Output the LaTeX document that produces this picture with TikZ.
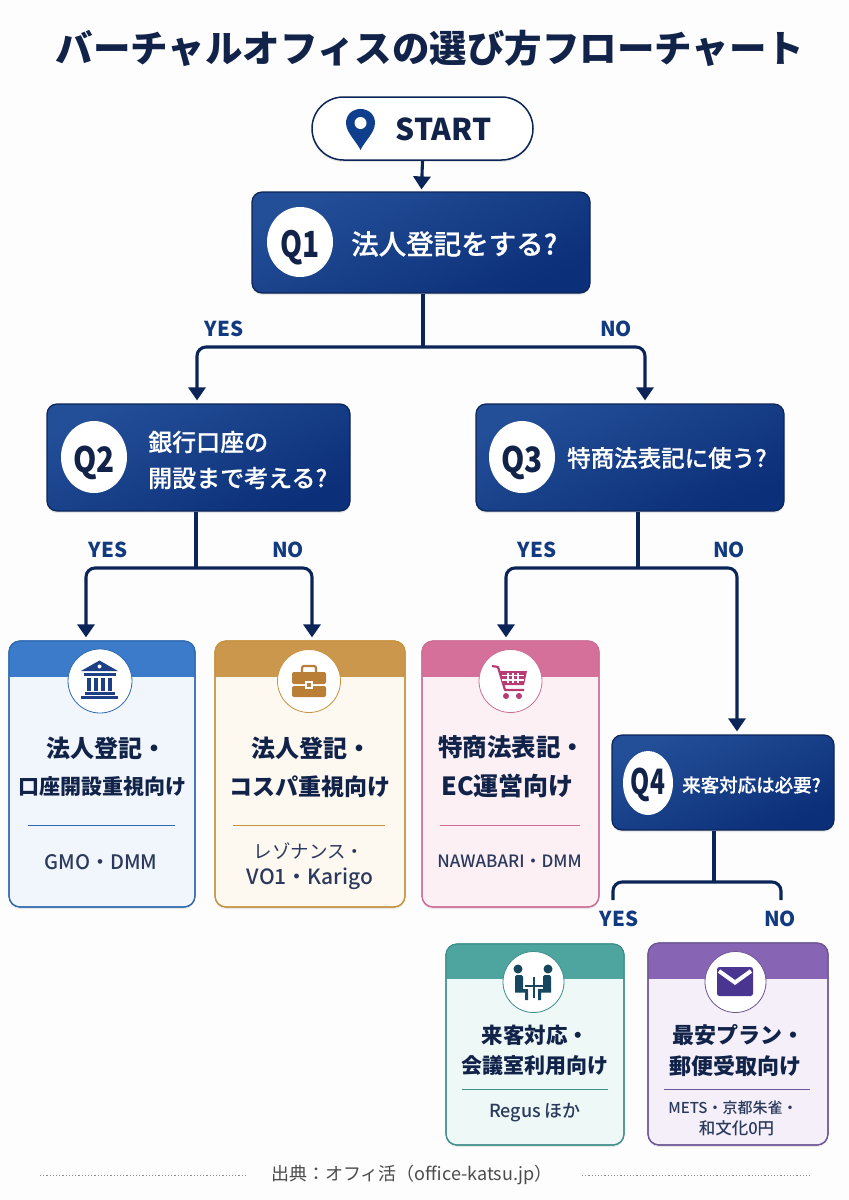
\documentclass[tikz,border=0pt]{standalone}
\usepackage{fontspec}
\setmainfont{Noto Sans CJK JP}
\newfontfamily\jpblack{Noto Sans CJK JP Black}
\newfontfamily\jpmed{Noto Sans CJK JP Medium}
\newfontfamily\jpsemi[FakeBold=0.5]{Noto Sans CJK JP Medium}
\usetikzlibrary{shapes.misc,shapes.geometric,arrows.meta,shadows,calc}
\definecolor{navy}{HTML}{0C2558}
\definecolor{ink}{HTML}{12234A}
\definecolor{lblblue}{HTML}{123A80}
\definecolor{qtop}{HTML}{234F98}
\definecolor{qbot}{HTML}{0B2F78}
\definecolor{pinblue}{HTML}{0F3F8C}
\definecolor{paper}{HTML}{FDFDFD}
\definecolor{hA}{HTML}{3B7BC9}\definecolor{bA}{HTML}{2E6AB0}\definecolor{fA}{HTML}{F1F6FC}
\definecolor{hB}{HTML}{CB974C}\definecolor{bB}{HTML}{C8923F}\definecolor{fB}{HTML}{FDF8F0}
\definecolor{hC}{HTML}{D5709A}\definecolor{bC}{HTML}{CE6E96}\definecolor{fC}{HTML}{FCF0F5}
\definecolor{hD}{HTML}{4EA5A0}\definecolor{bD}{HTML}{3F8F8B}\definecolor{fD}{HTML}{EEF8F7}
\definecolor{hE}{HTML}{8764B4}\definecolor{bE}{HTML}{6E5595}\definecolor{fE}{HTML}{F4EFF9}
\definecolor{icA}{HTML}{1C3F86}\definecolor{icB}{HTML}{B97F36}\definecolor{icC}{HTML}{B83B73}
\definecolor{icD}{HTML}{17475F}\definecolor{icE}{HTML}{4A3590}
\tikzset{
  x=1pt,y=-1pt,
  softsh/.style={drop shadow={shadow xshift=0pt,shadow yshift=-2pt,opacity=.14,fill=black!60}},
  conn/.style={draw=navy,line width=3.1pt,rounded corners=9pt},
  arr/.style={conn,-{Triangle[width=17pt,length=13pt]}},
  qbox/.style={rectangle,rounded corners=10pt,draw=navy,line width=1.2pt,top color=qtop,bottom color=qbot,shading angle=25,softsh,inner sep=0pt},
  qnum/.style={ellipse,fill=white,inner sep=0pt,text=ink},
  qtext/.style={text=white,inner sep=0pt,align=left},
  yn/.style={text=lblblue,font=\bfseries\fontsize{20.5}{22}\selectfont,inner sep=0pt},
  cardt/.style={text=ink,inner sep=0pt,align=center},
  cards/.style={text=ink!90!white,inner sep=0pt,align=center},
  foot/.style={text=black!70,inner sep=0pt},
  dots/.style={draw=black!45,line width=.8pt,dash pattern=on 1.2pt off 2pt},
  iconc/.style={circle,fill=white,draw=#1,line width=.8pt,inner sep=0pt},
}
% name, x1,y1,x2,y2, header bottom, body, header, border
\newcommand{\cardbox}[9]{%
  \node[rectangle,rounded corners=11pt,draw=#9,line width=1.2pt,fill=#7,softsh,minimum width=#4pt-#2pt,minimum height=#5pt-#3pt,inner sep=0pt] (#1) at ({(#2+#4)/2},{(#3+#5)/2}) {};
  \begin{scope}
    \clip[rounded corners=11pt] (#2,#3) rectangle (#4,#5);
    \fill[#8] (#2,#3) rectangle (#4,#6);
  \end{scope}
  \draw[rounded corners=11pt,draw=#9,line width=1.2pt] (#2,#3) rectangle (#4,#5);
}
\newcommand{\fs}[1]{\fontsize{#1}{#1}\selectfont}
\newcommand{\cond}[3]{\raisebox{-#1}[0pt][0pt]{\scalebox{#2}[1]{#3}}}
\begin{document}
\begin{tikzpicture}
\useasboundingbox (0,0) rectangle (849,1200);
\fill[paper] (0,0) rectangle (849,1200);

\node[text=ink,font=\jpblack\fs{37.5},inner sep=0pt] (title) at (430,48) {バーチャルオフィスの選び方フローチャート};

% start
\node[rounded rectangle,draw=navy,line width=1.5pt,fill=white,minimum width=221pt,minimum height=63pt,inner sep=0pt,softsh] (start) at (422.5,128.5) {};
\node[text=ink,font=\bfseries\fs{30},inner sep=0pt] (starttext) at (443.5,129.5) {START};
\begin{scope}[shift={(360.5,129.5)}]
  \fill[pinblue] (0,20.5) .. controls (-4,12) and (-14.5,3) .. (-14.5,-6.5) .. controls (-14.5,-15) and (-8,-20.5) .. (0,-20.5) .. controls (8,-20.5) and (14.5,-15) .. (14.5,-6.5) .. controls (14.5,3) and (4,12) .. (0,20.5) -- cycle;
  \fill[white] (0,-6.5) circle (6);
\end{scope}

% questions
\node[qbox,minimum width=338pt,minimum height=101pt] (q1) at (421,242.5) {};
\node[qnum,minimum width=66pt,minimum height=70pt,font=\bfseries\fs{36}] (n1) at (300,242) {\cond{.42em}{.78}{Q1}};
\node[qtext,anchor=west,font=\jpsemi\fs{27.5}] (t1) at (351,244) {法人登記をする?};

\node[qbox,minimum width=303pt,minimum height=107pt] (q2) at (198.5,457.5) {};
\node[qnum,minimum width=66pt,minimum height=72pt,font=\bfseries\fs{35}] (n2) at (94,457) {\cond{.45em}{.85}{Q2}};
\node[qtext,anchor=west,font=\jpsemi\fs{24}] (t2) at (148,460) {銀行口座の\\[12pt]開設まで考える?};

\node[qbox,minimum width=308pt,minimum height=107pt] (q3) at (630,457.5) {};
\node[qnum,minimum width=66pt,minimum height=72pt,font=\bfseries\fs{35}] (n3) at (522,457) {\cond{.45em}{.85}{Q3}};
\node[qtext,anchor=west,font=\jpsemi\fs{23.5}] (t3) at (567,458) {特商法表記に使う?};

\node[qbox,minimum width=222pt,minimum height=95pt] (q4) at (723,782.5) {};
\node[qnum,minimum width=50pt,minimum height=64pt,font=\bfseries\fs{35}] (n4) at (648,783) {\cond{.34em}{.7}{Q4}};
\node[qtext,anchor=west,font=\jpsemi\fs{18.5}] (t4) at (682,785) {来客対応は必要?};

% cards
\cardbox{c1}{9}{641}{195}{907}{677}{fA}{hA}{bA}
\cardbox{c2}{215}{641}{405}{907}{677}{fB}{hB}{bB}
\cardbox{c3}{422}{641}{599}{907}{677}{fC}{hC}{bC}
\cardbox{c4}{446}{944}{624}{1145}{979}{fD}{hD}{bD}
\cardbox{c5}{648}{943}{828}{1145}{979}{fE}{hE}{bE}

% connectors
\coordinate (j1) at (423,347);
\coordinate (j2) at (196,568);
\coordinate (j3) at (638,568);
\coordinate (j4) at (714,882);
\coordinate (e4y) at (613,900);
\coordinate (e4n) at (781,900);
\draw[arr] (start.south) -- ([xshift=0.5pt,yshift=2pt]q1.north);
\draw[conn] (q1.south -| j1) -- (j1);
\draw[arr] (j1) -| ([xshift=-1.5pt,yshift=3pt]q2.north);
\draw[arr] (j1) -| ([xshift=15pt,yshift=3pt]q3.north);
\draw[conn] (q2.south -| j2) -- (j2);
\draw[arr] (j2) -| ([xshift=-16pt,yshift=3pt]c1.north);
\draw[arr] (j2) -| ([xshift=2pt,yshift=3pt]c2.north);
\draw[conn] (q3.south -| j3) -- (j3);
\draw[arr] (j3) -| ([yshift=3pt,xshift=-4.5pt]c3.north);
\draw[arr] (j3) -| ([yshift=3pt,xshift=14pt]q4.north);
\draw[conn] (q4.south -| j4) -- (j4);
\draw[conn] (e4y) |- (j4);
\draw[conn] (e4n) |- (j4);

% branch labels
\node[yn] (y1) at (224,329) {YES};
\node[yn] (n1l) at (616,329) {NO};
\node[yn] (y2) at (108,550) {YES};
\node[yn] (n2l) at (288,550) {NO};
\node[yn] (y3) at (537,550) {YES};
\node[yn] (n3l) at (729,550) {NO};
\node[yn] (y4) at (619,919) {YES};
\node[yn] (n4l) at (780,919) {NO};

% icon circles
\node[iconc=bA,minimum size=64pt] (i1) at (100,681) {};
\node[iconc=bB,minimum size=63pt] (i2) at (309,681) {};
\node[iconc=bC,minimum size=63pt] (i3) at (510.5,681) {};
\node[iconc=bD,minimum size=61pt] (i4) at (533.5,982) {};
\node[iconc=bE,minimum size=61pt] (i5) at (735.5,982) {};

% bank icon
\begin{scope}[shift={(99.5,680)},icA]
  \fill (-18.5,-9) -- (0,-19.5) -- (18.5,-9) -- cycle;
  \fill[white] (0,-13.5) circle (2);
  \fill (-16,-7) rectangle (16,-4);
  \foreach \x in {-14,-7,0,7} \fill (\x+1,-2) rectangle (\x+5,11);
  \fill (-15,12) rectangle (15,14.5);
  \fill (-18.5,16) rectangle (18.5,18.5);
\end{scope}
% briefcase icon
\begin{scope}[shift={(309,681)},icB]
  \draw[icB,line width=2.2pt,rounded corners=2pt] (-7,-8) -- (-7,-15) -- (7,-15) -- (7,-8);
  \fill[rounded corners=2pt] (-17,-9) rectangle (17,3);
  \fill[rounded corners=2pt] (-17,5) rectangle (17,16);
  \fill[white] (-4,0) rectangle (4,8);
  \fill (-2,2) rectangle (2,6);
\end{scope}
% cart icon
\begin{scope}[shift={(511,681)}]
  \draw[icC,line width=2.2pt,line join=round] (-19,-15) -- (-13,-14) -- (-6,9) -- (13,9);
  \fill[icC] (-11,-10) -- (16,-10) -- (13,4) -- (-7,4) -- cycle;
  \foreach \y in {-5.5,-1} \draw[white,line width=1.1pt] (-9,\y) -- (13,\y);
  \foreach \x in {-3,2,7} \draw[white,line width=1.1pt] (\x,-8) -- (\x,2);
  \fill[icC] (-5,15) circle (3) (8,15) circle (3);
\end{scope}
% meeting icon
\begin{scope}[shift={(534,982)},icD]
  \fill (-16,-13) circle (4.5) (14,-13) circle (4.5);
  \fill[rounded corners=1.5pt] (-19,-7) rectangle (-11,9);
  \fill[rounded corners=1.5pt] (9,-7) rectangle (17,9);
  \fill (-19,7) rectangle (-6,10.5) (-9,7) rectangle (-6,18);
  \fill (4,7) rectangle (17,10.5) (4,7) rectangle (7,18);
  \fill (-9,3) rectangle (9,5);
  \fill (-1,-5) rectangle (1,16);
\end{scope}
% envelope icon
\begin{scope}[shift={(735,981.5)}]
  \fill[icE,rounded corners=2.5pt] (-18,-14.5) rectangle (18,14.5);
  \draw[white,line width=4pt,line join=miter] (-16,-10.5) -- (0,1) -- (16,-10.5);
\end{scope}

% card texts
\node[cardt,anchor=west,font=\bfseries\fs{24}] (a1) at (46,748) {法人登記・};
\node[cardt,font=\bfseries\fs{21}] (b1) at (102.5,787) {口座開設重視向け};
\draw[draw=bA,line width=.7pt] (28,825) -- (175,825);
\node[cards,font=\jpmed\fs{20}] (s1) at (101,862) {GMO・DMM};

\node[cardt,anchor=west,font=\bfseries\fs{24}] (a2) at (251,748) {法人登記・};
\node[cardt,font=\bfseries\fs{23}] (b2) at (310,787) {コスパ重視向け};
\draw[draw=bB,line width=.7pt] (233,825) -- (385,825);
\node[cards,font=\fs{18.5}] (s2a) at (309,851) {レゾナンス・};
\node[cards,font=\jpmed\fs{21}] (s2b) at (310,879) {VO1・Karigo};

\node[cardt,anchor=west,font=\bfseries\fs{24.5}] (a3) at (438,747) {特商法表記・};
\node[cardt,font=\bfseries\fs{25}] (b3) at (507.5,786) {EC運営向け};
\draw[draw=bC,line width=.7pt] (440,825) -- (580,825);
\node[cards,font=\jpmed\fs{17}] (s3) at (509.5,861) {NAWABARI・DMM};

\node[cardt,anchor=west,font=\bfseries\fs{21.5}] (a4) at (481.5,1035) {来客対応・};
\node[cardt,font=\bfseries\fs{21}] (b4) at (535,1066) {会議室利用向け};
\draw[draw=bD,line width=.7pt] (462,1089) -- (608,1089);
\node[cards,font=\jpmed\fs{18}] (s4) at (535,1112.5) {Regus ほか};

\node[cardt,anchor=west,font=\bfseries\fs{22}] (a5) at (672.5,1035) {最安プラン・};
\node[cardt,font=\bfseries\fs{22}] (b5) at (735.5,1066) {郵便受取向け};
\draw[draw=bE,line width=.7pt] (664,1089) -- (810,1089);
\node[cards,font=\jpmed\fs{15}] (s5a) at (733,1108) {METS・京都朱雀・};
\node[cards,font=\jpmed\fs{16.5}] (s5b) at (736.5,1128) {和文化0円};

% footer
\node[foot,font=\fs{18}] (src) at (412,1175) {出典：オフィ活（office-katsu.jp）};
\draw[dots] (40,1175) -- (247,1175);
\draw[dots] (582,1175) -- (810,1175);
\end{tikzpicture}
\end{document}
